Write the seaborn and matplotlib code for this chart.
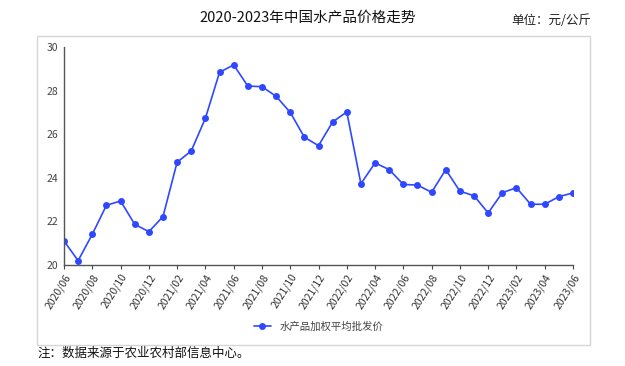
import pandas as pd
import seaborn as sns
import matplotlib.pyplot as plt
import matplotlib.patches as patches

# monthly labels 2020/06 - 2023/06
months = ["2020/06", "2020/07", "2020/08", "2020/09", "2020/10", "2020/11", "2020/12",
          "2021/01", "2021/02", "2021/03", "2021/04", "2021/05", "2021/06",
          "2021/07", "2021/08", "2021/09", "2021/10", "2021/11", "2021/12",
          "2022/01", "2022/02", "2022/03", "2022/04", "2022/05", "2022/06",
          "2022/07", "2022/08", "2022/09", "2022/10", "2022/11", "2022/12",
          "2023/01", "2023/02", "2023/03", "2023/04", "2023/05", "2023/06"]
prices = [21.10, 20.20, 21.41, 22.74, 22.94, 21.87, 21.53,
          22.22, 24.72, 25.24, 26.74, 28.85, 29.19,
          28.22, 28.19, 27.75, 27.01, 25.87, 25.48,
          26.57, 27.03, 23.73, 24.69, 24.38, 23.70,
          23.67, 23.34, 24.38, 23.39, 23.18, 22.39,
          23.32, 23.55, 22.79, 22.79, 23.14, 23.31]
series_name = "水产品加权平均批发价"
yticks = [20, 22, 24, 26, 28, 30]

df = pd.DataFrame({"idx": range(len(months)), "month": months, "price": prices})

sns.set_theme(style="white")
plt.rcParams['font.family'] = ['Noto Sans CJK SC', 'DejaVu Sans']

fig = plt.figure(figsize=(6.25, 3.66), dpi=100)
ax = fig.add_axes([0.1024, 0.276, 0.8144, 0.5948])

sns.lineplot(data=df, x="idx", y="price", ax=ax, color="#2f48ff", linewidth=1.2,
             marker="o", markersize=5, markeredgewidth=0, label=series_name)

ax.set_xlim(0, len(months) - 1)
ax.set_ylim(20, 30)
ax.set_yticks(yticks)
ax.set_xticks(df["idx"][::2])
ax.set_xticklabels(df["month"][::2], rotation=58, ha="right", rotation_mode="anchor",
                   fontsize=7.5, color="#333333")
ax.tick_params(axis="y", labelsize=7.5, labelcolor="#444444", length=0, pad=4)
ax.tick_params(axis="x", length=3, width=0.8, color="#444444", bottom=True, pad=2)
ax.set_xlabel("")
ax.set_ylabel("")
for side in ["top", "right"]:
    ax.spines[side].set_visible(False)
for side in ["left", "bottom"]:
    ax.spines[side].set_color("#555555")
    ax.spines[side].set_linewidth(1.0)

ax.legend(loc="upper center", bbox_to_anchor=(0.5, -0.215), frameon=False,
          fontsize=7.5, handlelength=1.6, labelcolor="#444444")

# outer light gray frame
fig.patches.append(patches.Rectangle((37 / 625, 1 - 345 / 366), 553 / 625, 309 / 366,
                                     transform=fig.transFigure, fill=False,
                                     edgecolor="#d6d6d6", linewidth=1.0))

fig.text(308 / 625, 1 - 18 / 366, "2020-2023年中国水产品价格走势", ha="center", va="center",
         fontsize=10.5, color="#111111")
fig.text(591 / 625, 1 - 20 / 366, "单位：元/公斤", ha="right", va="center",
         fontsize=9, color="#222222")
fig.text(38 / 625, 1 - 353 / 366, "注：数据来源于农业农村部信息中心。", ha="left", va="center",
         fontsize=9, color="#111111")

fig.savefig("out.png", dpi=100)
